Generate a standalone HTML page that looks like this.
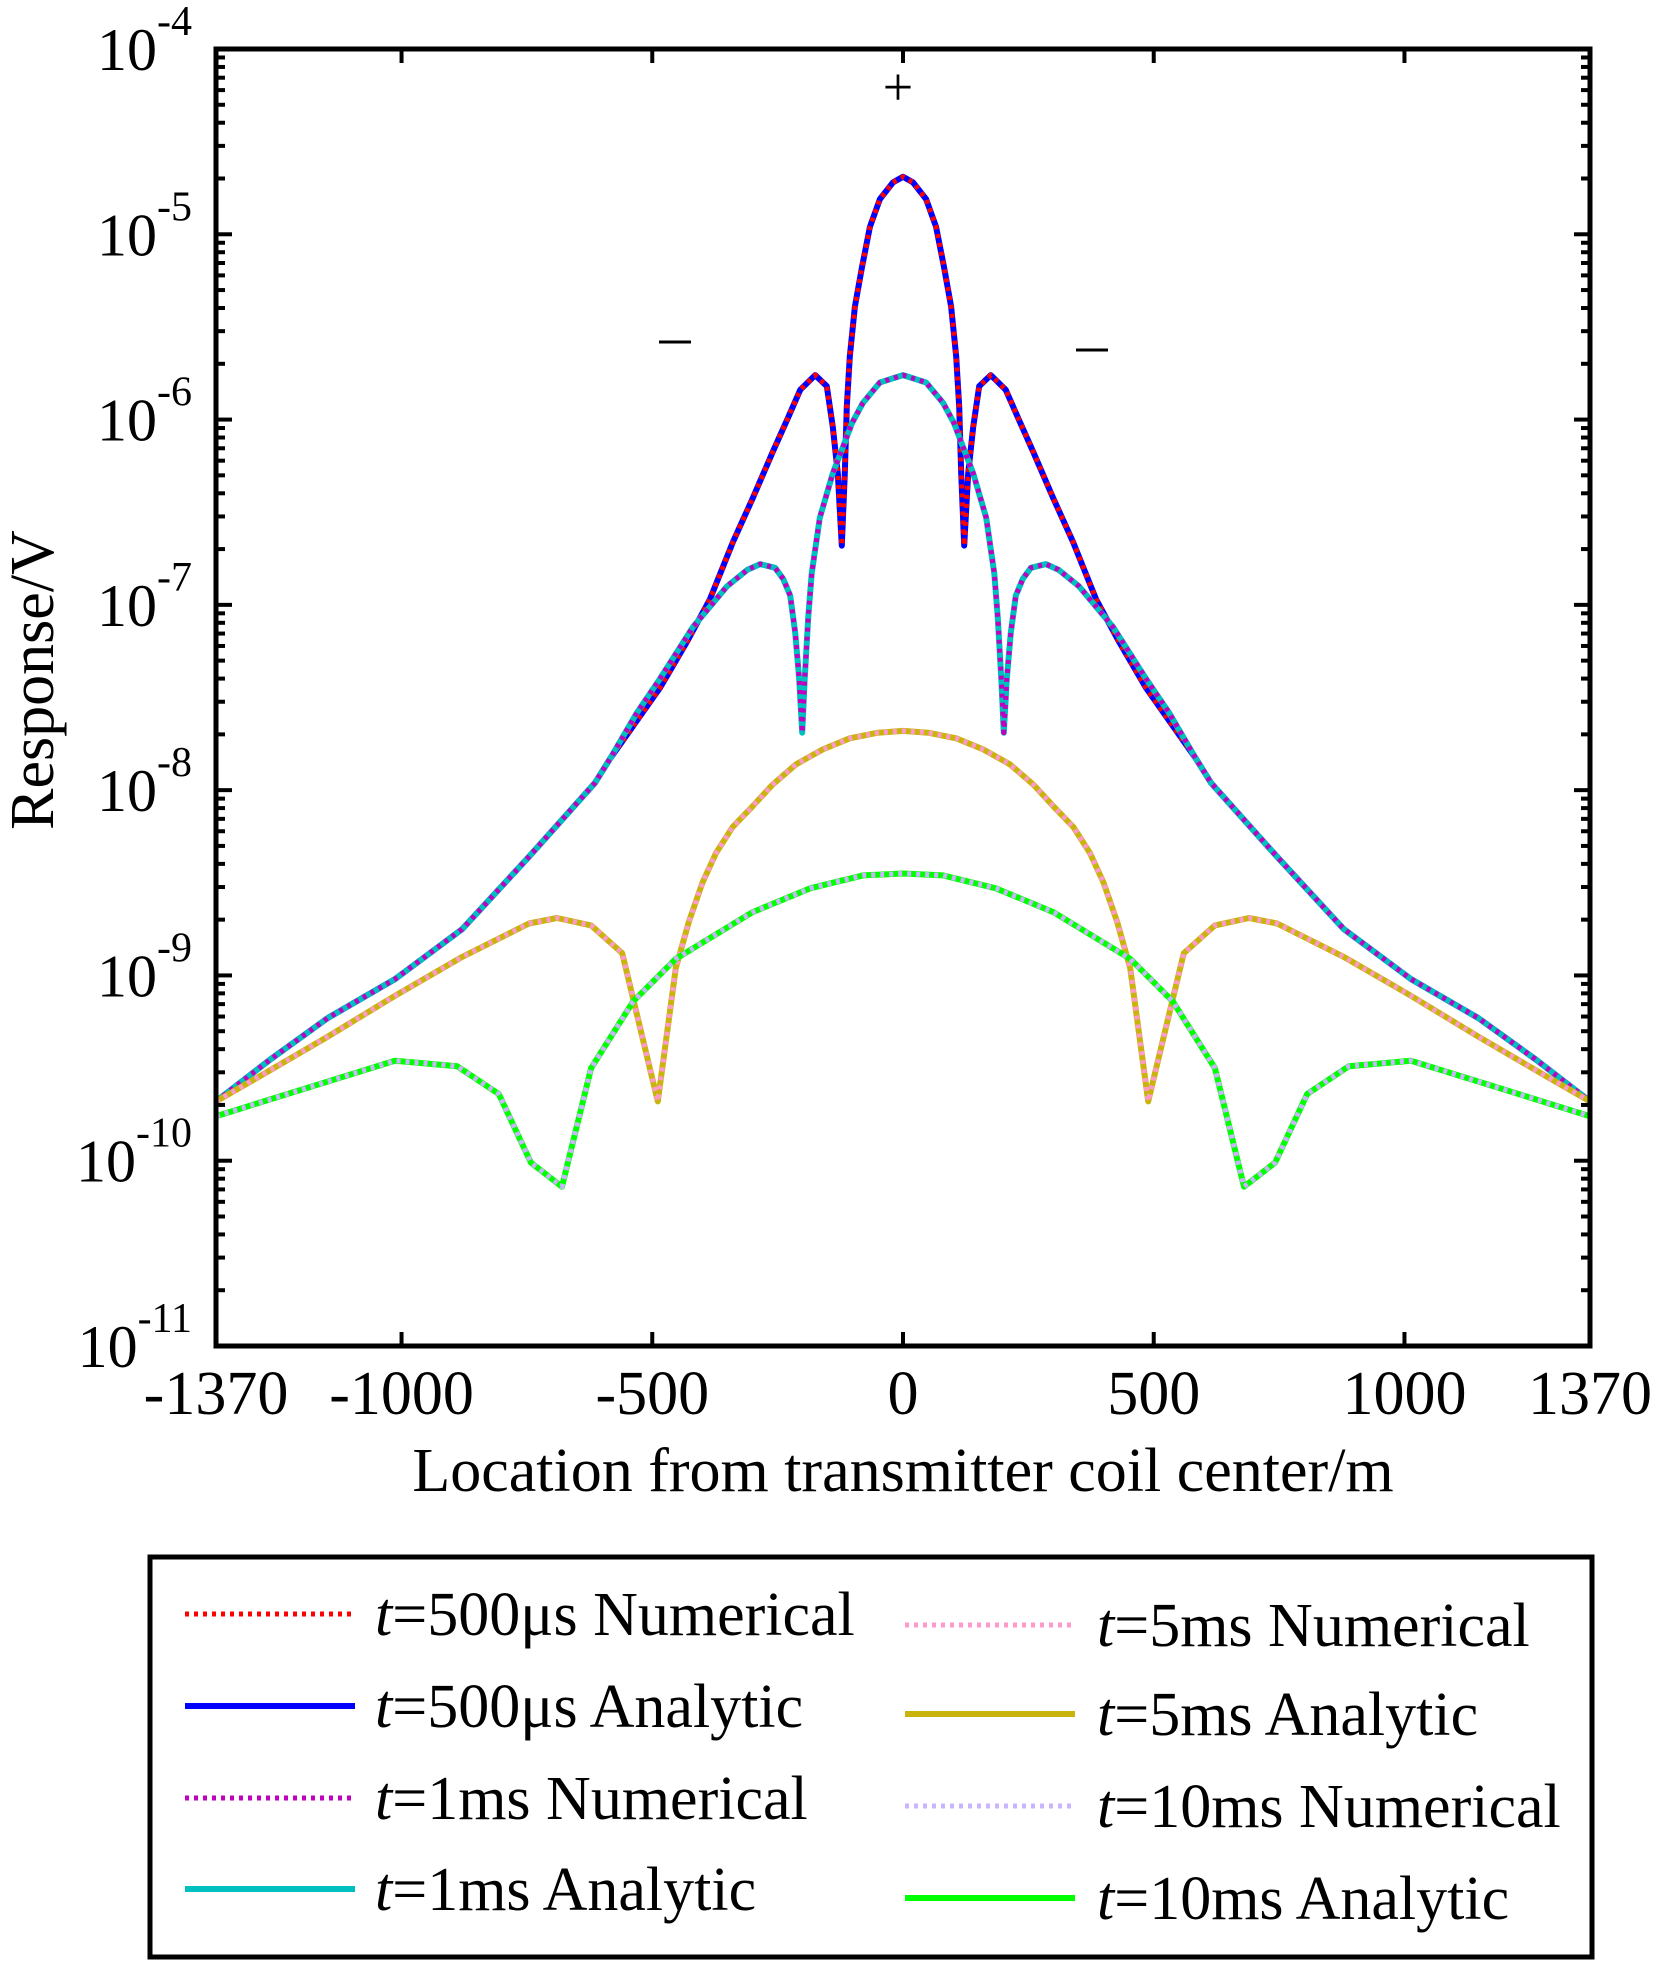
<!DOCTYPE html>
<html><head><meta charset="utf-8"><style>body{margin:0;background:#fff}svg{display:block}text{font-family:"Liberation Serif",serif;fill:#000}</style></head>
<body>
<svg id="chart" width="1658" height="1963" viewBox="0 0 1658 1963" xmlns="http://www.w3.org/2000/svg">
<g id="series"></g>
<rect x="216" y="49" width="1374" height="1297" fill="none" stroke="#000" stroke-width="5"/>
<g id="ticks"></g>
<text x="898" y="105" font-size="54" text-anchor="middle">+</text>
<line x1="659" y1="342" x2="691" y2="342" stroke="#000" stroke-width="3"/>
<line x1="1076" y1="350" x2="1108" y2="350" stroke="#000" stroke-width="3"/>
<text x="903" y="1491" font-size="62" text-anchor="middle">Location from transmitter coil center/m</text>
<text transform="translate(53,680) rotate(-90)" font-size="62" text-anchor="middle">Response/V</text>
<g>
<rect x="150" y="1557" width="1442" height="400" fill="none" stroke="#000" stroke-width="5"/>
<g id="legend-items"></g>
</g>
</svg>
<script>
const xs500 = [-1370,-1260,-1147,-1013,-879,-746,-614,-584,-485,-431,-385,-339,-299,-259,-231,-205,-175,-152,-140,-130,-122,-116,-112,-106,-96,-82,-66,-46,-20,0,20,46,66,82,96,106,112,116,122,130,140,152,175,205,231,259,299,339,385,431,485,584,614,746,879,1013,1147,1260,1370];
const ys500 = [-9.68,-9.45,-9.23,-9.02,-8.75,-8.36,-7.96,-7.83,-7.45,-7.20,-6.97,-6.66,-6.42,-6.17,-6.00,-5.84,-5.76,-5.82,-6.04,-6.29,-6.68,-6.29,-5.93,-5.66,-5.39,-5.18,-4.96,-4.81,-4.72,-4.69,-4.72,-4.81,-4.96,-5.18,-5.39,-5.66,-5.93,-6.29,-6.68,-6.29,-6.04,-5.82,-5.76,-5.84,-6.00,-6.17,-6.42,-6.66,-6.97,-7.20,-7.45,-7.83,-7.96,-8.36,-8.75,-9.02,-9.23,-9.45,-9.68];
const xs1 = [-1370,-1260,-1147,-1013,-879,-746,-614,-584,-530,-485,-419,-351,-310,-285,-255,-239,-225,-215,-207,-201,-196,-189,-182,-166,-140,-120,-102,-80,-46,0,46,80,102,120,140,166,182,189,196,201,207,215,225,239,255,285,310,351,419,485,530,584,614,746,879,1013,1147,1260,1370];
const ys1 = [-9.68,-9.45,-9.23,-9.02,-8.75,-8.36,-7.96,-7.83,-7.58,-7.40,-7.12,-6.90,-6.81,-6.78,-6.80,-6.86,-6.95,-7.15,-7.40,-7.69,-7.40,-7.07,-6.83,-6.53,-6.29,-6.15,-6.02,-5.91,-5.80,-5.76,-5.80,-5.91,-6.02,-6.15,-6.29,-6.53,-6.83,-7.07,-7.40,-7.69,-7.40,-7.15,-6.95,-6.86,-6.80,-6.78,-6.81,-6.90,-7.12,-7.40,-7.58,-7.83,-7.96,-8.36,-8.75,-9.02,-9.23,-9.45,-9.68];
const xs5 = [-1370,-1280,-1147,-1013,-879,-746,-690,-622,-560,-489,-453,-427,-400,-373,-340,-301,-260,-213,-160,-106,-50,0,50,106,160,213,260,301,340,373,400,427,453,489,560,622,690,746,879,1013,1147,1280,1370];
const ys5 = [-9.68,-9.54,-9.33,-9.11,-8.90,-8.72,-8.69,-8.73,-8.88,-9.68,-8.96,-8.71,-8.50,-8.34,-8.20,-8.09,-7.97,-7.86,-7.78,-7.72,-7.69,-7.68,-7.69,-7.72,-7.78,-7.86,-7.97,-8.09,-8.20,-8.34,-8.50,-8.71,-8.96,-9.68,-8.88,-8.73,-8.69,-8.72,-8.90,-9.11,-9.33,-9.54,-9.68];
const xs10 = [-1370,-1013,-889,-806,-742,-680,-622,-538,-453,-301,-185,-80,0,80,185,301,453,538,622,680,742,806,889,1013,1370];
const ys10 = [-9.76,-9.46,-9.49,-9.64,-10.01,-10.14,-9.50,-9.14,-8.91,-8.66,-8.53,-8.46,-8.45,-8.46,-8.53,-8.66,-8.91,-9.14,-9.50,-10.14,-10.01,-9.64,-9.49,-9.46,-9.76];
const xTicks = [-1370,-1000,-500,0,500,1000,1370];
const xTickLabels = ["-1370","-1000","-500","0","500","1000","1370"];
const yDecades = [-4,-5,-6,-7,-8,-9,-10,-11];
const legendLabels = ["500\u03bcs Numerical","500\u03bcs Analytic","1ms Numerical","1ms Analytic","5ms Numerical","5ms Analytic","10ms Numerical","10ms Analytic"];

const NS="http://www.w3.org/2000/svg";
const L=216,R=1590,T=49,B=1346;
const X=v=>L+(v+1370)/2740*(R-L);
const Y=v=>T+(-4-v)/7*(B-T);
function mk(tag,attrs,parent){const e=document.createElementNS(NS,tag);for(const k in attrs)e.setAttribute(k,attrs[k]);parent.appendChild(e);return e;}
const ticks=document.getElementById('ticks');
xTicks.forEach((v,i)=>{
  if(i>0&&i<xTicks.length-1){
    const t1=mk('line',{x1:X(v),x2:X(v),y1:B,y2:B-14,stroke:'#000','stroke-width':4},ticks);
    
    
    const t2=mk('line',{x1:X(v),x2:X(v),y1:T,y2:T+14,stroke:'#000','stroke-width':4},ticks);
    
    
  }
  const lb=mk('text',{x:X(v),y:1414,'font-size':62,'text-anchor':'middle'},ticks);
  lb.textContent=xTickLabels[i];
  
  
});
yDecades.forEach(d=>{
  const y=Y(d);
  [[L,1],[R,-1]].forEach(([x0,s])=>{
    const t=mk('line',{x1:x0,x2:x0+s*16,y1:y,y2:y,stroke:'#000','stroke-width':4},ticks);
    
    
    if(d>-11){for(let m=2;m<=9;m++){const ym=Y(d-1+Math.log10(m));
      const mt=mk('line',{x1:x0,x2:x0+s*9,y1:ym,y2:ym,stroke:'#000','stroke-width':4},ticks);
      
      }}
  });
  const lb=mk('text',{x:192,y:y+21,'font-size':60,'text-anchor':'end'},ticks);
  
  
  lb.appendChild(document.createTextNode('10'));
  const sp=mk('tspan',{dy:-35,'font-size':42},lb);sp.textContent=String(d);
});
const ser=document.getElementById('series');
function path(xs,ys){return xs.map((v,i)=>(i?'L':'M')+X(v).toFixed(1)+' '+Y(ys[i]).toFixed(1)).join(' ');}
const defs=[
 [xs500,ys500,'#0000ff',false,'analytic-500us'],[xs500,ys500,'#ff0000',true,'numerical-500us'],
 [xs1,ys1,'#00bfbf',false,'analytic-1ms'],[xs1,ys1,'#bf00bf',true,'numerical-1ms'],
 [xs5,ys5,'#c8b40a',false,'analytic-5ms'],[xs5,ys5,'#ff99cc',true,'numerical-5ms'],
 [xs10,ys10,'#00ff00',false,'analytic-10ms'],[xs10,ys10,'#ccb3ff',true,'numerical-10ms']];
defs.forEach(([xs,ys,c,dot,n])=>{
  const a={d:path(xs,ys),fill:'none',stroke:c,'stroke-width':dot?5:6,'stroke-linejoin':'round'};
  if(dot)a['stroke-dasharray']='4 5';
  const p=mk('path',a,ser);
  
  
});
const li=document.getElementById('legend-items');
const legColors=['#ff0000','#0000ff','#bf00bf','#00bfbf','#ff99cc','#c8b40a','#ccb3ff','#00ff00'];
const rowsL=[1614,1706,1798,1889],rowsR=[1625,1714,1806,1898];
legendLabels.forEach((lab,i)=>{
  const col=i<4?0:1,r=i%4,y=col?rowsR[r]:rowsL[r],x0=col?905:185,tx=col?1097:375;
  const dot=i%2===0;
  const a={x1:x0,x2:x0+170,y1:y,y2:y,stroke:legColors[i],'stroke-width':dot?5:6};
  if(dot)a['stroke-dasharray']='4 5';
  const ln=mk('line',a,li);
  
  
  const t=mk('text',{x:tx,y:y+21,'font-size':62},li);
  
  
  const it=mk('tspan',{'font-style':'italic'},t);it.textContent='t';
  t.appendChild(document.createTextNode('='+lab));
});
</script>
</body></html>
